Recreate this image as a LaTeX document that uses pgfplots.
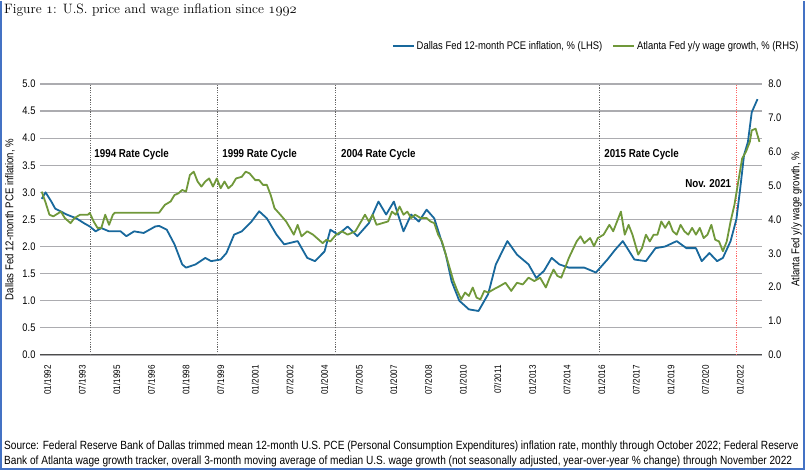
\documentclass[border=0pt]{standalone}
\usepackage{pgfplots}
\pgfplotsset{compat=1.18}
\usepackage{fontspec}
\setsansfont{Liberation Sans}[FakeStretch=0.85]
\renewcommand{\familydefault}{\sfdefault}
\definecolor{pceblue}{RGB}{24,104,156}
\definecolor{wagegreen}{RGB}{112,152,58}
\definecolor{gridgray}{RGB}{172,172,176}
\definecolor{frameblue}{RGB}{68,114,196}
\newcommand{\osf}[1]{{\usefont{OML}{cmm}{m}{it}#1}}
\pgfplotstableread{
m v
-3 2.88
-1 3.0
2 2.83
4 2.7
10 2.59
15 2.52
19 2.43
22 2.37
25 2.28
28 2.34
32 2.28
38 2.28
41 2.19
45 2.28
50 2.25
56 2.37
58 2.38
62 2.31
66 2.04
70 1.67
72 1.61
77 1.67
82 1.79
85 1.73
90 1.76
93 1.88
97 2.22
101 2.28
106 2.46
110 2.65
114 2.52
119 2.22
123 2.04
130 2.1
135 1.79
139 1.73
144 1.91
147 2.31
151 2.22
156 2.37
161 2.19
167 2.43
172 2.83
176 2.59
180 2.83
185 2.28
189 2.59
193 2.46
197 2.68
201 2.52
207 1.85
210 1.36
214 1.0
219 0.84
224 0.81
229 1.12
233 1.67
239 2.1
244 1.85
250 1.67
254 1.42
258 1.55
262 1.79
266 1.67
271 1.61
279 1.61
285 1.52
291 1.76
295 1.94
299 2.1
305 1.76
311 1.73
316 1.97
321 2.0
327 2.1
332 1.97
337 1.97
340 1.73
344 1.88
348 1.73
351 1.79
355 2.1
358 2.5
360 3.07
362 3.69
364 3.93
366 4.48
369 4.72
}\pcedata
\pgfplotstableread{
m v
-3 4.82
-1 4.5
1 4.14
3 4.09
7 4.23
9 4.04
12 3.89
14 4.04
17 4.14
21 4.14
22 4.19
24 3.94
26 3.75
28 3.75
30 4.14
32 3.84
34 4.14
35 4.2
58 4.2
61 4.43
64 4.53
66 4.72
68 4.77
70 4.87
72 4.82
74 5.31
76 5.41
78 5.12
80 4.97
82 5.12
84 5.21
86 4.97
88 5.21
90 4.92
92 5.12
94 4.92
96 5.02
98 5.21
101 5.26
103 5.41
105 5.36
108 5.16
110 5.16
112 5.02
114 5.02
116 4.72
118 4.33
121 4.14
124 3.94
126 3.75
128 3.55
130 3.84
132 3.5
135 3.65
138 3.55
141 3.4
143 3.3
145 3.4
147 3.35
150 3.55
153 3.65
156 3.55
160 3.65
163 3.94
165 4.14
167 3.94
169 4.14
171 3.84
174 3.89
177 3.94
179 4.23
181 4.14
183 4.38
185 4.14
187 4.23
189 4.04
191 4.14
194 4.04
197 4.04
199 3.94
201 3.89
203 3.55
205 3.35
207 2.96
209 2.57
211 2.18
213 1.89
215 1.64
217 1.84
219 1.74
221 1.99
223 1.69
225 1.64
227 1.89
229 1.84
232 1.94
235 2.03
238 2.13
241 1.89
244 2.13
247 2.08
250 2.28
253 2.18
256 2.28
259 1.99
261 2.28
263 2.52
265 2.33
267 2.28
269 2.57
271 2.87
273 3.11
275 3.35
277 3.5
279 3.3
282 3.45
284 3.21
286 3.45
289 3.55
292 3.84
294 3.65
296 3.94
298 4.23
300 3.55
302 3.84
304 3.55
307 2.96
309 3.16
311 3.55
313 3.35
315 3.55
317 3.55
319 3.94
321 3.75
323 3.94
325 3.65
327 3.55
329 3.84
331 3.65
333 3.55
335 3.75
337 3.55
339 3.75
341 3.45
343 3.55
345 3.84
347 3.4
349 3.35
351 3.06
353 3.35
355 3.94
357 4.43
359 5.12
361 5.8
363 6.0
365 6.29
366 6.63
368 6.68
370 6.29
}\wagedata
\begin{document}
\begin{tikzpicture}[x=1pt,y=1pt]
\path (0,0) rectangle (805,469);
\draw[frameblue, line width=2pt] (1,469) -- (1,1) -- (804,1) -- (804,469);
\node[anchor=base west, inner sep=0, font=\rmfamily\fontsize{13.6}{15}\selectfont] at (4,456) {Figure \osf{1}: U.S. price and wage inflation since \osf{1992}};
\node[anchor=base west, inner sep=0, align=left, font=\fontsize{11.9}{15}\selectfont] at (4,5) {Source: Federal Reserve Bank of Dallas trimmed mean 12-month U.S. PCE (Personal Consumption Expenditures) inflation rate, monthly through October 2022; Federal Reserve\\Bank of Atlanta wage growth tracker, overall 3-month moving average of median U.S. wage growth (not seasonally adjusted, year-over-year \% change) through November 2022};
\begin{axis}[
  at={(40pt,115pt)}, anchor=south west,
  scale only axis, width=722pt, height=271pt,
  xmin=-3.9, xmax=371.2, ymin=0, ymax=5,
  axis x line*=bottom, axis y line*=left,
  axis line style={draw=none},
  major tick length=0pt,
  ytick={0,0.5,...,5},
  ymajorgrids, grid style={gridgray, line width=1.3pt},
  xtick={0,18,...,360},
  xticklabels={01/1992,07/1993,01/1995,07/1996,01/1998,07/1999,01/2001,07/2002,01/2004,07/2005,01/2007,07/2008,01/2010,07/2011,01/2013,07/2014,01/2016,07/2017,01/2019,07/2020,01/2022},
  x tick label style={rotate=90, anchor=east, font=\fontsize{9.5}{9.5}\selectfont},
  xticklabel shift=7pt,
  y tick label style={font=\fontsize{11}{11}\selectfont},
  yticklabel shift=1pt,
  yticklabel style={/pgf/number format/.cd, fixed, fixed zerofill, precision=1, assume math mode=true},
  ylabel={Dallas Fed 12-month PCE inflation, \%},
  ylabel style={at={(axis description cs:-0.0416,0.5)}, anchor=center, font=\fontsize{11.3}{11.3}\selectfont},
]
\draw[gray!60!black, line width=1.6pt] (axis cs:-3.9,0) -- (axis cs:371.2,0);
\foreach \xx in {22.4,88.4,149.7,287} {
  \edef\tmp{\noexpand\draw[gray!80!black, line width=0.7pt, dash pattern=on 1.2pt off 1.2pt] (axis cs:\xx,0) -- (axis cs:\xx,5);}\tmp
}
\draw[red!60, line width=0.7pt, dash pattern=on 1.2pt off 1.2pt] (axis cs:358,0) -- (axis cs:358,5);
\addplot[pceblue, line width=1.8pt, line join=round] table[x=m,y=v] {\pcedata};
\node[anchor=west, inner sep=0, font=\bfseries\fontsize{11.5}{12}\selectfont] at (axis cs:24.3,3.69) {1994 Rate Cycle};
\node[anchor=west, inner sep=0, font=\bfseries\fontsize{11.5}{12}\selectfont] at (axis cs:90.8,3.69) {1999 Rate Cycle};
\node[anchor=west, inner sep=0, font=\bfseries\fontsize{11.5}{12}\selectfont] at (axis cs:152.5,3.69) {2004 Rate Cycle};
\node[anchor=west, inner sep=0, font=\bfseries\fontsize{11.5}{12}\selectfont] at (axis cs:289.3,3.69) {2015 Rate Cycle};
\node[anchor=east, inner sep=0, font=\bfseries\fontsize{11.5}{12}\selectfont] at (axis cs:355.4,3.16) {Nov. 2021};
\end{axis}
\begin{axis}[
  at={(40pt,115pt)}, anchor=south west,
  scale only axis, width=722pt, height=271pt,
  xmin=-3.9, xmax=371.2, ymin=0, ymax=8,
  axis x line=none, axis y line*=right,
  axis line style={draw=none},
  major tick length=0pt,
  ytick={0,1,...,8},
  y tick label style={font=\fontsize{11}{11}\selectfont},
  yticklabel shift=3pt,
  yticklabel style={/pgf/number format/.cd, fixed, fixed zerofill, precision=1, assume math mode=true},
  ylabel={Atlanta Fed y/y wage growth, \%},
  ylabel style={at={(axis description cs:1.048,0.5)}, anchor=center, font=\fontsize{11.3}{11.3}\selectfont},
  legend columns=2,
  legend style={at={(1.054,1.14)}, anchor=east, draw=none, fill=none, inner sep=0pt,
    font=\fontsize{11.1}{11.1}\selectfont, /tikz/every even column/.append style={column sep=8pt}},
  legend image code/.code={\draw[#1] (0pt,0pt) -- (21pt,0pt);},
]
\addlegendimage{pceblue, line width=1.8pt}
\addlegendentry{Dallas Fed 12-month PCE inflation, \% (LHS)}
\addplot[wagegreen, line width=1.8pt, line join=round] table[x=m,y=v] {\wagedata};
\addlegendentry{Atlanta Fed y/y wage growth, \% (RHS)}
\end{axis}
\end{tikzpicture}
\end{document}
